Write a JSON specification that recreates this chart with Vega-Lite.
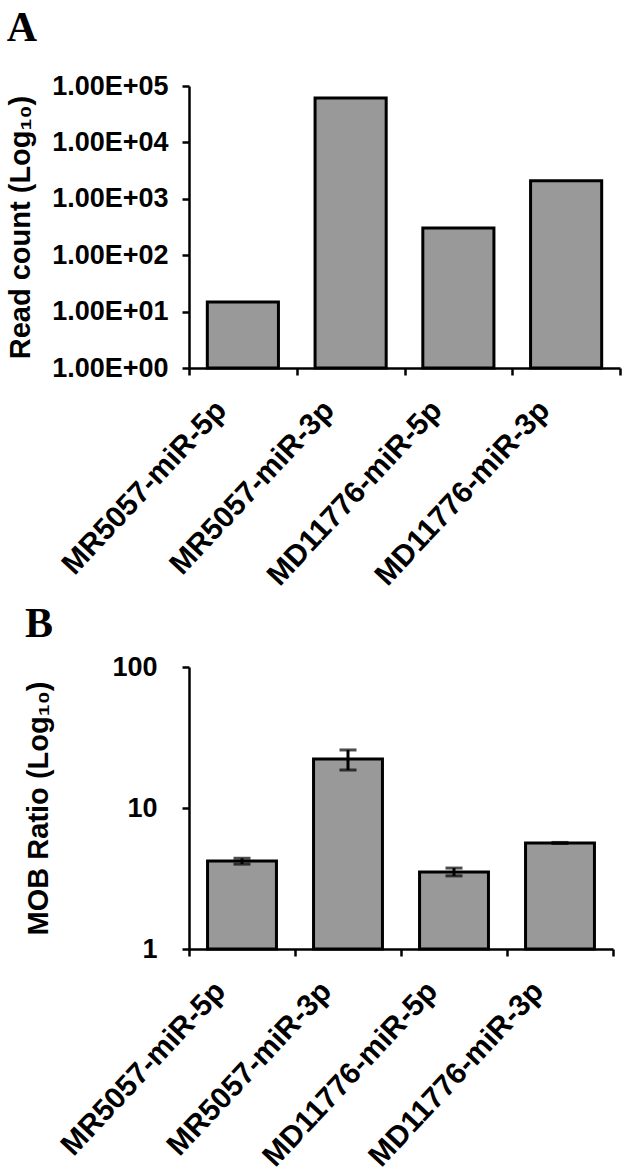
{
  "$schema": "https://vega.github.io/schema/vega-lite/v6.json",
  "background": "white",
  "padding": {"left": 6, "top": 7, "right": 5, "bottom": 5},
  "spacing": 12,
  "config": {
    "font": "Liberation Sans",
    "view": {"stroke": null},
    "axis": {
      "domainColor": "black", "domainWidth": 2.5,
      "tickColor": "black", "tickWidth": 2.5, "tickSize": 7,
      "labelFont": "Liberation Sans", "labelFontWeight": "bold", "labelColor": "black", "labelFontSize": 27,
      "titleFont": "Liberation Sans", "titleFontWeight": "bold", "titleColor": "black", "titleFontSize": 29,
      "grid": false, "labelLimit": 400
    },
    "title": {"font": "Liberation Serif", "fontWeight": "bold", "fontSize": 42, "anchor": "start", "frame": "bounds", "color": "black"}
  },
  "vconcat": [
    {
      "title": {"text": "A", "offset": 22},
      "width": 431,
      "height": 282,
      "data": {"values": [
        {"name": "MR5057-miR-5p", "count": 14.8},
        {"name": "MR5057-miR-3p", "count": 61500},
        {"name": "MD11776-miR-5p", "count": 303},
        {"name": "MD11776-miR-3p", "count": 2080}
      ]},
      "mark": {"type": "bar", "fill": "#999999", "stroke": "black", "strokeWidth": 3, "width": {"band": 0.66}},
      "encoding": {
        "x": {
          "field": "name", "type": "nominal", "sort": null,
          "scale": {"paddingInner": 0, "paddingOuter": 0},
          "axis": {"title": null, "tickBand": "extent", "labelAngle": -47, "labelAlign": "right", "labelBaseline": "middle", "labelFontSize": 30, "labelPadding": 30, "labelOffset": -22}
        },
        "y": {
          "field": "count", "type": "quantitative",
          "scale": {"type": "log", "domain": [1, 100000], "nice": false},
          "axis": {"title": "Read count (Log₁₀)", "values": [1, 10, 100, 1000, 10000, 100000], "labelExpr": "'1.00E+0' + round(log(datum.value) / LN10)", "labelPadding": 14, "titlePadding": 16}
        },
        "y2": {"datum": 1}
      }
    },
    {
      "title": {"text": "B", "offset": 7},
      "width": 424,
      "height": 282,
      "data": {"values": [
        {"name": "MR5057-miR-5p", "ratio": 4.21, "lo": 4.0, "hi": 4.4},
        {"name": "MR5057-miR-3p", "ratio": 22.3, "lo": 18.6, "hi": 25.8},
        {"name": "MD11776-miR-5p", "ratio": 3.52, "lo": 3.3, "hi": 3.75},
        {"name": "MD11776-miR-3p", "ratio": 5.65, "lo": 5.6, "hi": 5.7}
      ]},
      "encoding": {
        "x": {
          "field": "name", "type": "nominal", "sort": null,
          "scale": {"paddingInner": 0, "paddingOuter": 0},
          "axis": {"title": null, "tickBand": "extent", "labelAngle": -47, "labelAlign": "right", "labelBaseline": "middle", "labelFontSize": 30, "labelPadding": 30, "labelOffset": -22}
        }
      },
      "layer": [
        {
          "mark": {"type": "bar", "fill": "#999999", "stroke": "black", "strokeWidth": 3, "width": {"band": 0.65}},
          "encoding": {
            "y": {
              "field": "ratio", "type": "quantitative",
              "scale": {"type": "log", "domain": [1, 100], "nice": false},
              "axis": {"title": "MOB Ratio (Log₁₀)", "values": [1, 10, 100], "format": "d", "labelPadding": 25, "titlePadding": 58}
            },
            "y2": {"datum": 1}
          }
        },
        {
          "mark": {"type": "rule", "color": "black", "strokeWidth": 3},
          "encoding": {"y": {"field": "lo", "type": "quantitative"}, "y2": {"field": "hi"}}
        },
        {
          "mark": {"type": "tick", "color": "black", "thickness": 3, "size": 17},
          "encoding": {"y": {"field": "lo", "type": "quantitative"}}
        },
        {
          "mark": {"type": "tick", "color": "black", "thickness": 3, "size": 17},
          "encoding": {"y": {"field": "hi", "type": "quantitative"}}
        }
      ]
    }
  ]
}
